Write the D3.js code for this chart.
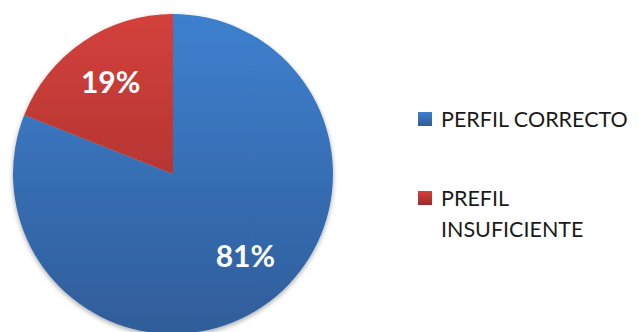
<!DOCTYPE html>
<html>
<head>
<meta charset="utf-8">
<script src="https://cdn.jsdelivr.net/npm/d3@7"></script>
<style>
  html, body { margin: 0; padding: 0; background: #fff; }
  svg { display: block; }
</style>
</head>
<body>
<svg id="chart" width="638" height="332"></svg>
<script>
// Profile assessment shares
const categories = ["PERFIL CORRECTO", "PREFIL INSUFICIENTE"];
const legendLines = [["PERFIL CORRECTO"], ["PREFIL", "INSUFICIENTE"]];
const values = [81, 19];
const labels = ["81%", "19%"];

const topColors = ["#3e80cf", "#d3413c"];
const bottomColors = ["#2f5d99", "#9a2a2a"];

const svg = d3.select("#chart");
const cx = 173, cy = 174, R = 160;
const fontFamily = "Lato, 'Open Sans', sans-serif";

const defs = svg.append("defs");
categories.forEach((c, i) => {
  // vertical gradient spanning the whole pie (group coordinates)
  const g = defs.append("linearGradient")
    .attr("id", "grad" + i)
    .attr("gradientUnits", "userSpaceOnUse")
    .attr("x1", 0).attr("y1", -R).attr("x2", 0).attr("y2", R);
  g.append("stop").attr("offset", "0%").attr("stop-color", topColors[i]);
  g.append("stop").attr("offset", "100%").attr("stop-color", bottomColors[i]);
  const lg = defs.append("linearGradient")
    .attr("id", "lgrad" + i)
    .attr("x1", 0).attr("y1", 0).attr("x2", 0).attr("y2", 1);
  lg.append("stop").attr("offset", "0%").attr("stop-color", topColors[i]);
  lg.append("stop").attr("offset", "100%").attr("stop-color", bottomColors[i]);
});
const shadow = defs.append("filter").attr("id", "shadow")
  .attr("x", "-10%").attr("y", "-10%").attr("width", "120%").attr("height", "120%");
shadow.append("feGaussianBlur").attr("in", "SourceAlpha").attr("stdDeviation", 2.5);
shadow.append("feOffset").attr("dx", 0).attr("dy", 2).attr("result", "off");
shadow.append("feComponentTransfer").append("feFuncA").attr("type", "linear").attr("slope", 0.35);
const merge = shadow.append("feMerge");
merge.append("feMergeNode");
merge.append("feMergeNode").attr("in", "SourceGraphic");

const pie = d3.pie().sort(null).value(d => d);
const arcs = pie(values);
const arc = d3.arc().innerRadius(0).outerRadius(R);
const labelArc = d3.arc().innerRadius(111).outerRadius(111);

svg.append("g")
  .attr("transform", `translate(${cx},${cy})`)
  .attr("filter", "url(#shadow)")
  .selectAll("path")
  .data(arcs)
  .join("path")
  .attr("d", arc)
  .attr("fill", (d, i) => `url(#grad${i})`);

// the large slice's label sits a little off its centroid
const labelShift = (d, i) => {
  const [x, y] = labelArc.centroid(d);
  return i === 0 ? [x + 10, y - 10] : [x, y];
};

svg.append("g")
  .attr("transform", `translate(${cx},${cy})`)
  .selectAll("text")
  .data(arcs)
  .join("text")
  .attr("transform", (d, i) => `translate(${labelShift(d, i)})`)
  .attr("text-anchor", "middle")
  .attr("dy", "0.36em")
  .attr("fill", "#fff")
  .attr("font-family", fontFamily)
  .attr("font-weight", "bold")
  .attr("font-size", 30)
  .text((d, i) => labels[i]);

// legend
const legend = svg.append("g");
const legendY = [112, 191];
categories.forEach((c, i) => {
  const item = legend.append("g").attr("transform", `translate(418,${legendY[i]})`);
  item.append("rect").attr("width", 14).attr("height", 14)
    .attr("fill", `url(#lgrad${i})`);
  const t = item.append("text")
    .attr("x", 23).attr("y", 14.5)
    .attr("font-family", fontFamily)
    .attr("font-size", 21.5)
    .attr("fill", "#1a1a1a");
  legendLines[i].forEach((line, j) => {
    t.append("tspan").attr("x", 23).attr("dy", j === 0 ? 0 : 31).text(line);
  });
});
</script>
</body>
</html>
